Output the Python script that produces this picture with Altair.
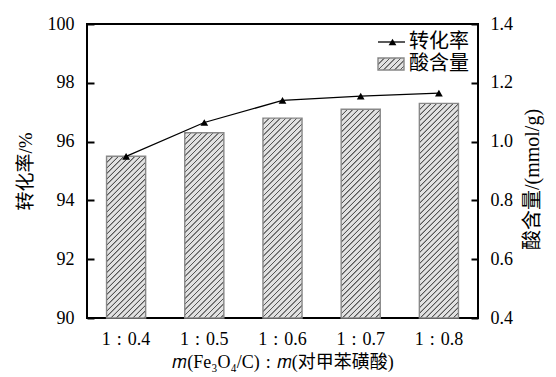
import altair as alt
import pandas as pd

# ---- data ----
SP = "\u2004"
ratios = [f"1{SP}:{SP}0.4", f"1{SP}:{SP}0.5", f"1{SP}:{SP}0.6",
          f"1{SP}:{SP}0.7", f"1{SP}:{SP}0.8"]
conversion = [95.5, 96.65, 97.4, 97.55, 97.65]       # 转化率 / %
acid = [0.95, 1.03, 1.08, 1.11, 1.13]                 # 酸含量 / (mmol/g)
left_ticks = [90, 92, 94, 96, 98, 100]
right_ticks = [0.4, 0.6, 0.8, 1.0, 1.2, 1.4]
legend_labels = ["转化率", "酸含量"]
x_title = f"𝑚(Fe₃O₄/C){SP}:{SP}𝑚(对甲苯磺酸)"
left_title = "转化率/%"
right_title = "酸含量/(mmol/g)"

W, H = 391, 294
PAD_IN, PAD_OUT = 0.5, 0.25
FONT = "Liberation Serif, Noto Sans CJK SC"
FILL, HATCH = "#e2e2e2", "#555555"

df = pd.DataFrame({"ratio": ratios, "conversion": conversion, "acid": acid})

step = W / (len(ratios) - PAD_IN + 2 * PAD_OUT)
bw = step * (1 - PAD_IN)


def hatch(w, h, s=5.5):
    """linear gradient with many stops that draws '/' hatching at 45deg"""
    L = w + h
    a = (1 + h / w) / (1 + (h / w) ** 2)
    stops = []
    pos = 0.0
    while pos < L:
        for off, col in [(0, FILL), (0.6, HATCH), (1.3, HATCH), (2.0, FILL)]:
            stops.append({"offset": min((pos + off) / L, 1.0), "color": col})
        pos += s
    stops.append({"offset": 1.0, "color": FILL})
    return {"gradient": "linear", "x1": 0, "y1": 0, "x2": a, "y2": a * h / w,
            "stops": stops}


x_enc = alt.X(
    "ratio:N", sort=ratios,
    scale=alt.Scale(paddingInner=PAD_IN, paddingOuter=PAD_OUT),
    axis=alt.Axis(title=x_title, labelAngle=0, ticks=False, tickSize=0,
                  domain=False, labelPadding=12, titlePadding=5,
                  labelFontSize=18, titleFontSize=18, labelFont=FONT,
                  titleFont=FONT, titleFontWeight="normal"),
)

y_right = alt.Y(
    "acid:Q", scale=alt.Scale(domain=[0.4, 1.4], zero=False),
    axis=alt.Axis(orient="right", values=right_ticks, format=".1f",
                  domain=False, offset=-7, tickSize=7, tickWidth=2,
                  labelPadding=12, labelFontSize=18, labelFont=FONT,
                  title=right_title, titleFont=FONT, titleFontSize=20,
                  titleFontWeight="normal", titleAngle=270,
                  titleAlign="center", titleBaseline="middle",
                  titleX=61, titleY=155),
)

bar_layers = []
for i, r in enumerate(ratios):
    h = (acid[i] - 0.4) / (1.4 - 0.4) * H
    bar_layers.append(
        alt.Chart(df).transform_filter(alt.datum.ratio == r)
        .mark_bar(fill=hatch(bw, h), stroke="#888888", strokeWidth=1.4)
        .encode(x=x_enc, y=y_right, y2=alt.datum(0.4))
    )
bars = alt.layer(*bar_layers)

y_left = alt.Y(
    "conversion:Q", scale=alt.Scale(domain=[90, 100], zero=False),
    axis=alt.Axis(orient="left", values=left_ticks, format="d",
                  domain=False, offset=-7, tickSize=7, tickWidth=2,
                  labelPadding=13, labelFontSize=18, labelFont=FONT,
                  title=left_title, titleFont=FONT, titleFontSize=19,
                  titleFontWeight="normal", titleAngle=270,
                  titleAlign="center", titleBaseline="middle",
                  titleX=-69, titleY=147),
)

base_line = alt.Chart(df).encode(x=x_enc, y=y_left)
line = base_line.mark_line(color="black", strokeWidth=1.3)
pts = base_line.mark_point(shape="triangle-up", filled=True, size=60,
                           color="black", opacity=1)
line_group = alt.layer(line, pts)

one = pd.DataFrame({"t": [legend_labels[0]]})
two = pd.DataFrame({"t": [legend_labels[1]]})
leg_line = alt.Chart(one).mark_rule(color="black", strokeWidth=1.3).encode(
    x=alt.value(291), x2=alt.value(318), y=alt.value(18))
leg_pt = alt.Chart(one).mark_point(shape="triangle-up", filled=True, size=60,
                                   color="black", opacity=1).encode(
    x=alt.value(305.5), y=alt.value(18))
leg_t1 = alt.Chart(one).mark_text(align="left", baseline="middle", fontSize=20,
                                  font=FONT, color="black").encode(
    x=alt.value(322), y=alt.value(18), text="t:N")
leg_box = alt.Chart(two).mark_rect(fill=hatch(26, 12), stroke="#888888",
                                   strokeWidth=1.4).encode(
    x=alt.value(291), x2=alt.value(317), y=alt.value(34), y2=alt.value(46))
leg_t2 = alt.Chart(two).mark_text(align="left", baseline="middle", fontSize=20,
                                  font=FONT, color="black").encode(
    x=alt.value(322), y=alt.value(40), text="t:N")

chart = alt.layer(
    bars, line_group, leg_line, leg_pt, leg_t1, leg_box, leg_t2
).resolve_scale(y="independent").properties(
    width=W, height=H,
    autosize=alt.AutoSizeParams(type="none"),
    padding={"left": 87, "top": 24, "right": 78, "bottom": 59},
).configure_view(stroke="black", strokeWidth=2).configure_axis(
    grid=False, labelColor="black", titleColor="black", tickColor="black"
)

chart.save("out.html", embed_options={"renderer": "svg", "actions": False})
